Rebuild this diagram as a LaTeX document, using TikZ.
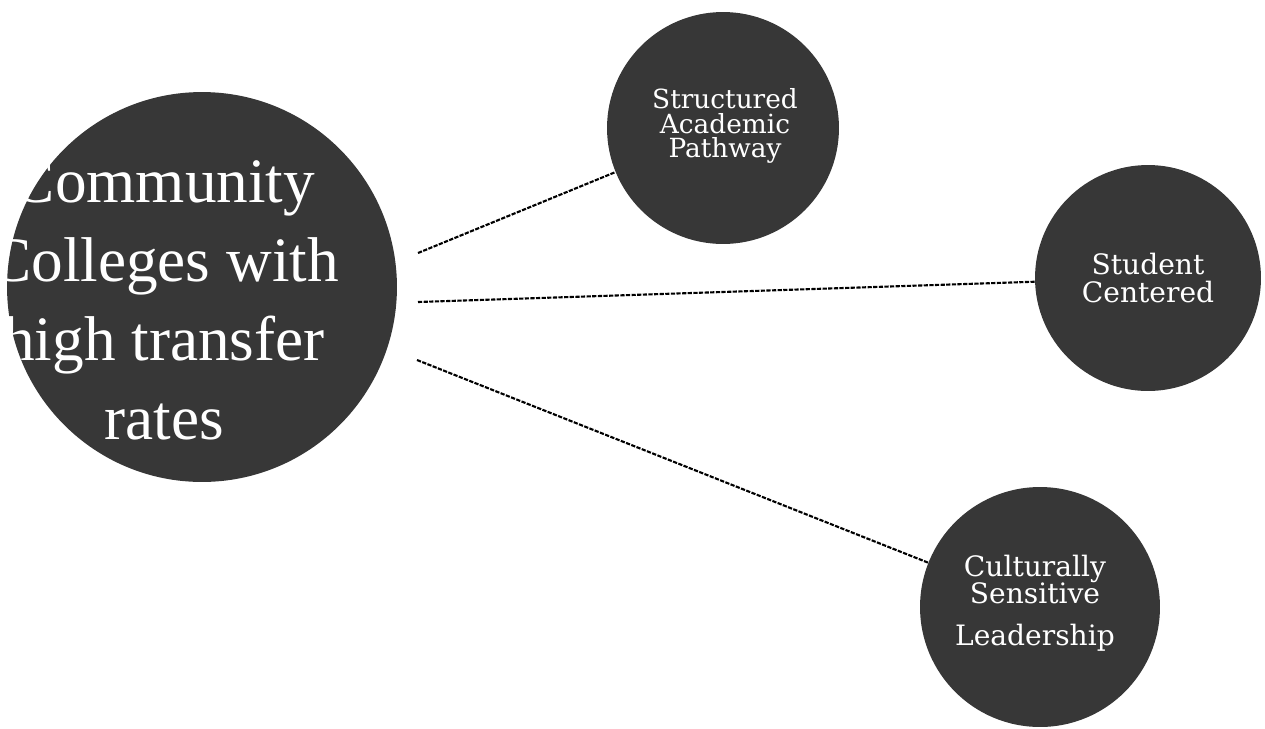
\documentclass[tikz,border=0pt]{standalone}
\usepackage{fontspec}
\setmainfont{Liberation Serif}
\newfontfamily\slabfont{DejaVu Serif}
\definecolor{hubgray}{RGB}{55,55,55}
\begin{document}
\begin{tikzpicture}[x=0.02cm,y=-0.02cm,
    hub/.style={circle,fill=hubgray,inner sep=0pt},
    bigtext/.style={text=white,align=center,font=\fontsize{36}{45}\selectfont},
    spoketext/.style={text=white,align=center,font=\slabfont\fontsize{15}{13.8}\selectfont},
    link/.style={line width=1.2pt,dash pattern=on 2.4pt off 0.8pt}]
  \useasboundingbox (0,0) rectangle (1265,728);
  \node[hub,minimum size=7.8cm] (center) at (202,287) {};
  \node[bigtext] (centertext) at (164,300) {Community\\Colleges with\\high transfer\\rates};
  \node[hub,minimum size=4.64cm] (pathway) at (723,128) {};
  \node[hub,minimum size=4.52cm] (student) at (1148,278) {};
  \node[hub,minimum size=4.8cm] (leader) at (1040,607) {};
  \node[spoketext] (pathwaytext) at (725,126) {Structured\\Academic\\Pathway};
  \node[spoketext,font=\slabfont\fontsize{16}{15.5}\selectfont] (studenttext) at (1148,278) {Student\\Centered};
  \node[spoketext,font=\slabfont\fontsize{16}{15.5}\selectfont] (leadertext) at (1035,603) {Culturally\\Sensitive\\[8pt]Leadership};
  \coordinate (s1) at (418,253);
  \coordinate (s2) at (418,302);
  \coordinate (s3) at (417,360);
  \draw[link] (s1) -- (pathway);
  \draw[link] (s2) -- (student);
  \draw[link] (s3) -- (leader);
\end{tikzpicture}
\end{document}
